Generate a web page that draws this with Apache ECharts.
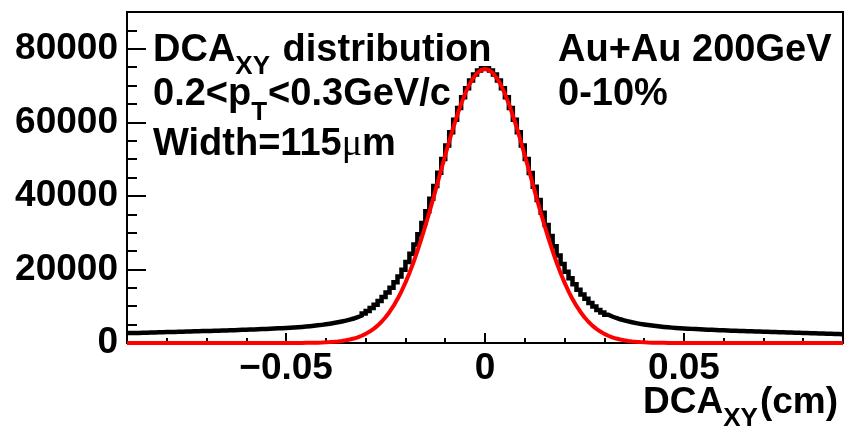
<!DOCTYPE html>
<html>
<head>
<meta charset="utf-8">
<script src="https://cdn.jsdelivr.net/npm/echarts@6/dist/echarts.min.js"></script>
<style>
html,body{margin:0;padding:0;background:#fff;}
#chart{width:844px;height:427px;}
</style>
</head>
<body>
<div id="chart"></div>
<script>
// ---------------- data ----------------
const binMin = -0.09;
const binWidth = 0.001;
// DCA_XY histogram counts, bins from -0.09 to 0.09 (width 0.001)
const counts = [
  2690,2720,2750,2780,2810,2840,2870,2900,2930,2960,
  2990,3020,3050,3080,3110,3140,3170,3200,3230,3260,
  3290,3330,3360,3390,3430,3460,3500,3530,3570,3610,
  3650,3690,3730,3780,3830,3880,3930,3980,4040,4100,
  4160,4230,4300,4380,4470,4570,4680,4800,4930,5080,
  5240,5420,5620,5840,6080,6350,6650,7000,7450,8000,
  8700,9500,10400,11400,12500,13700,15000,16500,18100,19900,
  22000,24300,26800,29600,32600,35800,39200,42700,46300,50000,
  53700,57300,60700,63900,66800,69300,71400,73000,74100,74700,
  74700,74100,73000,71400,69300,66800,63900,60700,57300,53700,
  50000,46200,42500,38900,35400,32100,29100,26300,23800,21500,
  19400,17600,16000,14500,13200,12000,10900,9900,9000,8300,
  7700,7200,6800,6450,6150,5880,5630,5410,5210,5030,
  4870,4730,4600,4480,4370,4270,4180,4100,4030,3960,
  3900,3840,3780,3720,3670,3620,3570,3520,3480,3440,
  3400,3360,3320,3290,3250,3220,3180,3150,3110,3080,
  3050,3010,2980,2950,2910,2880,2850,2810,2780,2750,
  2710,2680,2650,2610,2580,2540,2510,2470,2440,2400
];
// Gaussian fit curve sampled every 0.001 from -0.09 to 0.09
const fitMin = -0.09;
const fitStep = 0.001;
const fitValues = [
  0,0,0,0,0,0,0,0,0,0,0,0,0,0,0,0,0,0,0,0,0,0,0,0,0,0,0,0,0,0,0,0,0,0,0,0,0,0,0,0,0,0,0,0,0,
  35,50,70,95,130,180,240,320,420,550,730,940,1210,1550,1970,2480,3100,3850,4730,5780,
  7010,8440,10080,11950,14060,16420,19030,21890,24980,28300,31820,35510,39330,43220,47150,
  51050,54850,58490,61900,65020,67780,70130,72010,73380,74220,
  74500,
  74220,73380,72010,70130,67780,65020,61900,58490,54850,51050,
  47150,43220,39330,35510,31820,28300,24980,21890,19030,16420,14060,11950,10080,8440,7010,
  5780,4730,3850,3100,2480,1970,1550,1210,940,730,550,420,320,240,180,130,95,70,50,35,
  0,0,0,0,0,0,0,0,0,0,0,0,0,0,0,0,0,0,0,0,0,0,0,0,0,0,0,0,0,0,0,0,0,0,0,0,0,0,0,0,0,0,0,0,0
];
const xRange = [-0.09, 0.09];
const yRange = [0, 90000];
const xMajorTicks = [-0.05, 0, 0.05];
const xMinorTicks = [-0.08,-0.07,-0.06,-0.04,-0.03,-0.02,-0.01,0.01,0.02,0.03,0.04,0.06,0.07,0.08];
const yMajorTicks = [0, 20000, 40000, 60000, 80000];
const yMinorTicks = [5000,10000,15000,25000,30000,35000,45000,50000,55000,65000,70000,75000,85000];

// ---------------- build ----------------
const histData = counts.map((v, i) => [binMin + (i + 0.5) * binWidth, v]);
histData.unshift([binMin, counts[0]]);
histData.push([binMin + counts.length * binWidth, counts[counts.length - 1]]);
const fitData = fitValues.map((v, i) => [fitMin + i * fitStep, v]);

const FONT = '"Liberation Sans", Arial, Helvetica, sans-serif';
const SERIF = '"Liberation Serif", "DejaVu Serif", serif';
const cv = document.createElement('canvas').getContext('2d');
function tw(t, size, weight, fam) { cv.font = weight + ' ' + size + 'px ' + fam; return cv.measureText(t).width; }

// pieces: [text, size, weight, family, baselineShift, extraGap]
function richLine(pieces, x, baseline, align) {
  const els = [];
  let total = 0;
  const widths = pieces.map(p => { const w = tw(p[0], p[1], p[2], p[3]) + (p[5] || 0); total += w; return w; });
  let cx = align === 'right' ? x - total : x;
  pieces.forEach((p, i) => {
    const size = p[1];
    const b = baseline + (p[4] || 0);
    els.push({
      type: 'text', z: 100,
      x: cx, y: b - 0.35 * size,
      style: { text: p[0], font: p[2] + ' ' + size + 'px ' + p[3], fill: '#000', verticalAlign: 'middle', align: 'left' }
    });
    cx += widths[i];
  });
  return els;
}

const M = 38, S = 26;
let graphics = [];
graphics = graphics.concat(richLine([
  ['DCA', M, 'bold', FONT], ['XY', S, 'bold', FONT, 12, 2], [' distribution', M, 'bold', FONT]
], 153, 64));
graphics = graphics.concat(richLine([
  ['0.2<p', M, 'bold', FONT], ['T', S, 'bold', FONT, 14, 1], ['<0.3GeV/c', M, 'bold', FONT]
], 153, 108));
graphics = graphics.concat(richLine([
  ['Width=115', M, 'bold', FONT], ['\u03bc', M, 'normal', SERIF], ['m', M, 'bold', FONT]
], 153, 158));
graphics = graphics.concat(richLine([['Au+Au 200GeV', M, 'bold', FONT]], 558, 64));
graphics = graphics.concat(richLine([['0-10%', M, 'bold', FONT]], 558, 108));
graphics = graphics.concat(richLine([
  ['DCA', 37, 'bold', FONT], ['XY', S, 'bold', FONT, 12, 2], ['(cm)', 37, 'bold', FONT]
], 838, 416, 'right'));

const chart = echarts.init(document.getElementById('chart'), null, { renderer: 'canvas' });
const labelStyle = { fontFamily: FONT, fontWeight: 'bold', fontSize: 37, color: '#000' };
chart.setOption({
  animation: false,
  backgroundColor: '#fff',
  grid: { left: 127, right: 1, top: 12, bottom: 84, show: true, borderColor: '#000', borderWidth: 2, backgroundColor: 'transparent' },
  xAxis: [{
    type: 'value', min: xRange[0], max: xRange[1],
    axisLine: { show: true, onZero: false, lineStyle: { color: '#000', width: 2 } },
    axisTick: { show: true, inside: true, length: 10, lineStyle: { color: '#000', width: 2 }, customValues: xMajorTicks },
    axisLabel: { show: true, margin: 7, customValues: xMajorTicks, ...labelStyle,
      formatter: v => (Math.abs(v) < 1e-9 ? '0' : String(+v.toFixed(3)).replace('-', '\u2212')) },
    splitLine: { show: false }
  }, {
    type: 'value', min: xRange[0], max: xRange[1], position: 'bottom',
    axisLine: { show: false, onZero: false },
    axisTick: { show: true, inside: true, length: 5, lineStyle: { color: '#000', width: 2 }, customValues: xMinorTicks },
    axisLabel: { show: false }, splitLine: { show: false }
  }],
  yAxis: [{
    type: 'value', min: yRange[0], max: yRange[1],
    axisLine: { show: true, onZero: false, lineStyle: { color: '#000', width: 2 } },
    axisTick: { show: true, inside: true, length: 19, lineStyle: { color: '#000', width: 2 }, customValues: yMajorTicks },
    axisLabel: { show: true, margin: 9, customValues: yMajorTicks, ...labelStyle, padding: [5, 0, 0, 0],
      formatter: v => String(Math.round(v)) },
    splitLine: { show: false }
  }, {
    type: 'value', min: yRange[0], max: yRange[1], position: 'left',
    axisLine: { show: false, onZero: false },
    axisTick: { show: true, inside: true, length: 10, lineStyle: { color: '#000', width: 2 }, customValues: yMinorTicks },
    axisLabel: { show: false }, splitLine: { show: false }
  }],
  series: [{
    type: 'line', data: histData, step: 'middle', showSymbol: false, symbol: 'none',
    xAxisIndex: 0, yAxisIndex: 0,
    lineStyle: { color: '#000', width: 4.5, join: 'miter' }, z: 2
  }, {
    type: 'line', data: fitData, showSymbol: false, symbol: 'none', smooth: false,
    xAxisIndex: 0, yAxisIndex: 0,
    lineStyle: { color: '#ff0000', width: 4 }, z: 3
  }],
  graphic: graphics
});
</script>
</body>
</html>
